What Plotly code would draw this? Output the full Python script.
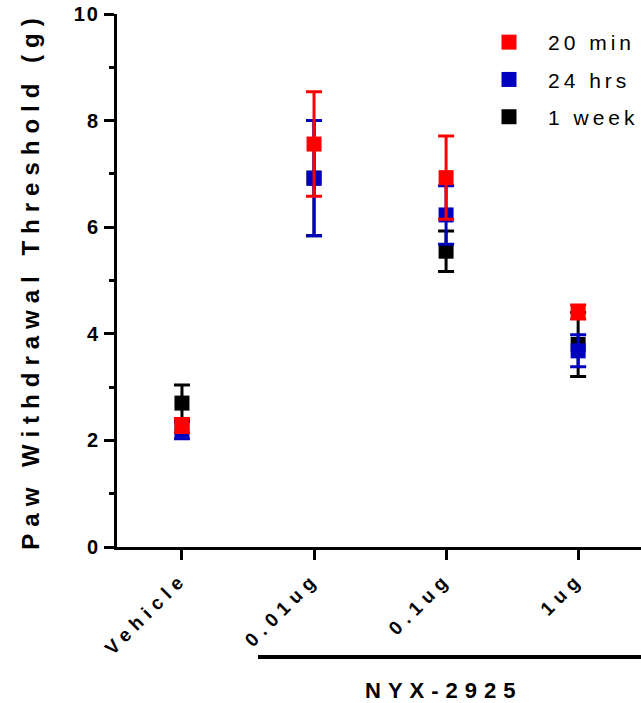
import plotly.graph_objects as go

categories = ["Vehicle", "0.01ug", "0.1ug", "1ug"]

min20 = [2.28, 7.56, 6.93, 4.41]
min20_err = [0.13, 0.98, 0.78, 0.13]

hrs24 = [2.19, 6.92, 6.23, 3.68]
hrs24_err = [0.16, 1.08, 0.55, 0.30]

week1 = [2.70, 6.92, 5.55, 3.80]
week1_err = [0.34, 1.08, 0.38, 0.60]

series = [
    ("1 week", week1, week1_err, "#000000", 3),
    ("24 hrs", hrs24, hrs24_err, "#0000BF", 2),
    ("20 min", min20, min20_err, "#FF0000", 1),
]

FONT = "Liberation Sans, Arial, sans-serif"

fig = go.Figure()
for name, vals, errs, color, rank in series:
    fig.add_trace(go.Scatter(
        x=categories, y=vals, name=name, mode="markers",
        marker=dict(symbol="square", size=15, color=color, line=dict(width=0)),
        error_y=dict(type="data", array=errs, visible=True, color=color,
                     thickness=3, width=8),
        legendrank=rank, legendgroup=name,
    ))

fig.update_layout(
    width=641, height=703,
    margin=dict(l=117, r=0, t=14, b=156),
    plot_bgcolor="white", paper_bgcolor="white",
    showlegend=True,
    legend=dict(x=(470 - 117) / 524, xanchor="left", y=0.985, yanchor="top",
                font=dict(family=FONT, size=21, color="#000"),
                itemwidth=68,
                tracegroupgap=7, bgcolor="rgba(0,0,0,0)"),
    xaxis=dict(type="category", range=[-0.492, 3.476],
               showline=True, linewidth=3, linecolor="#000",
               ticks="outside", ticklen=10, tickwidth=3, tickcolor="#000",
               tickangle=-45, showgrid=False, zeroline=False,
               tickfont=dict(family=FONT, size=19, color="#000", weight="bold")),
    yaxis=dict(range=[0, 10], dtick=2, showline=True, linewidth=3, linecolor="#000",
               ticks="outside", ticklen=10, tickwidth=3, tickcolor="#000",
               showgrid=False, zeroline=False,
               minor=dict(dtick=1, ticks="outside", ticklen=5, tickwidth=3, tickcolor="#000"),
               tickfont=dict(family=FONT, size=20, color="#000", weight="bold"),
               title=dict(text="Paw Withdrawal Threshold (g)", standoff=32,
                          font=dict(family=FONT, size=24, color="#000", weight="bold"))),
)

fig.add_shape(type="line", xref="paper", yref="paper",
              x0=(258 - 117) / 524, x1=1.0, y0=(547 - 657) / 533, y1=(547 - 657) / 533,
              line=dict(color="#000", width=4))
fig.add_annotation(text="NYX-2925", xref="paper", yref="paper",
                   x=(444 - 117) / 524, y=(547 - 690) / 533, showarrow=False,
                   xanchor="center", yanchor="middle",
                   font=dict(family=FONT, size=22, color="#000", weight="bold"))

post = """
var gd = document.getElementById('{plot_id}');
function sp(sel, v){ gd.querySelectorAll(sel).forEach(function(e){ e.style.letterSpacing = v; }); }
sp('.ytitle', '7px'); sp('.xtick text', '6px'); sp('.ytick text', '2px');
sp('.legendtext', '4px'); sp('.annotation-text', '7px');
gd.querySelectorAll('.legend .scrollbox').forEach(function(e){ e.removeAttribute('clip-path'); });
gd.querySelectorAll('.legend').forEach(function(e){ e.removeAttribute('clip-path'); e.style.overflow = 'visible'; });
"""

fig.write_html("out.html", post_script=post)
